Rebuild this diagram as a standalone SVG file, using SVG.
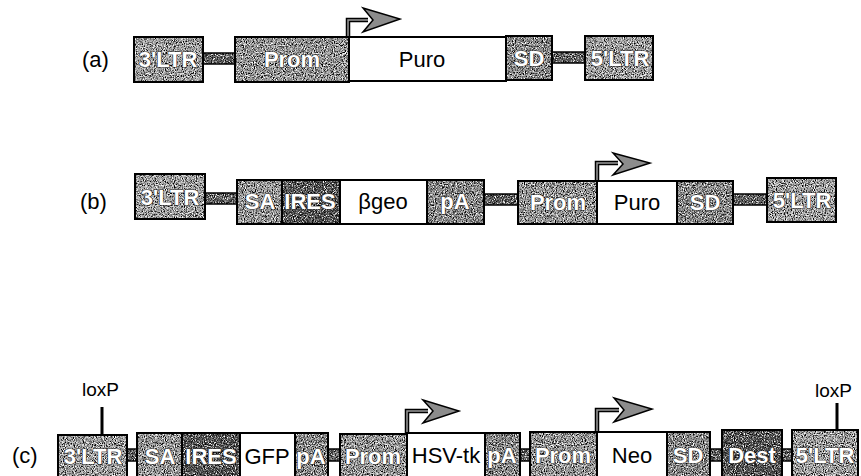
<svg xmlns="http://www.w3.org/2000/svg" width="861" height="476" viewBox="0 0 861 476">
<defs>
<filter id="sp" x="0" y="0" width="1" height="1" color-interpolation-filters="sRGB">
  <feTurbulence type="fractalNoise" baseFrequency="0.9" numOctaves="2" seed="5" result="n"/>
  <feColorMatrix in="n" type="matrix" values="0.33 0.33 0.33 0 0  0.33 0.33 0.33 0 0  0.33 0.33 0.33 0 0  0 0 0 0 1" result="g"/>
  <feComponentTransfer in="g" result="c">
    <feFuncR type="linear" slope="3.5" intercept="-1.25"/>
    <feFuncG type="linear" slope="3.5" intercept="-1.25"/>
    <feFuncB type="linear" slope="3.5" intercept="-1.25"/>
  </feComponentTransfer>
  <feBlend in="SourceGraphic" in2="c" mode="overlay" result="b"/>
  <feComposite in="b" in2="SourceGraphic" operator="in"/>
</filter>
<style>
.f{filter:url(#sp)}
.o{fill:none;stroke:#000;stroke-width:2}
.g1{fill:#a6a6a6}
.g2{fill:#9c9c9c}
.g3{fill:#8c8c8c}
.dk{fill:#4e4e4e}
.wh{fill:#fff;stroke:#000;stroke-width:2}
.bar{fill:#5e5e5e}
.bo{fill:none;stroke:#000;stroke-width:1.5}
.wt{font-family:"Liberation Sans",Arial,sans-serif;font-weight:bold;font-size:22px;fill:#fff;stroke:#333;stroke-width:1.2;paint-order:stroke;text-anchor:middle}
.bt{font-family:"Liberation Sans",Arial,sans-serif;font-size:22px;fill:#000;text-anchor:middle}
.lb{font-family:"Liberation Sans",Arial,sans-serif;font-size:22px;fill:#000}
.lx{font-family:"Liberation Sans",Arial,sans-serif;font-size:19px;fill:#000}
.arl{fill:none;stroke:#000;stroke-width:4.5;stroke-linejoin:miter}
.arc{fill:none;stroke:#9a9a9a;stroke-width:1.5}
.arh{fill:#8c8c8c;stroke:#000;stroke-width:1.5;stroke-linejoin:miter}
.tick{stroke:#000;stroke-width:3}
</style>
</defs>
<rect width="861" height="476" fill="#fff"/>

<!-- labels -->
<text class="lb" x="82" y="67">(a)</text>
<text class="lb" x="80" y="209">(b)</text>
<text class="lb" x="12" y="463">(c)</text>

<!-- connectors -->
<g id="connectors">
  <g id="backbone">
    <rect class="bar f" x="203" y="53" width="32" height="11"/><rect class="bo" x="203" y="53" width="32" height="11"/>
    <rect class="bar f" x="552" y="52" width="33" height="11"/><rect class="bo" x="552" y="52" width="33" height="11"/>
    <rect class="bar f" x="205" y="193" width="32" height="11"/><rect class="bo" x="205" y="193" width="32" height="11"/>
    <rect class="bar f" x="484" y="194" width="34" height="11"/><rect class="bo" x="484" y="194" width="34" height="11"/>
    <rect class="bar f" x="733" y="194" width="34" height="11"/><rect class="bo" x="733" y="194" width="34" height="11"/>
    <rect class="bar f" x="127" y="449" width="10" height="12"/><rect class="bo" x="127" y="449" width="10" height="12"/>
    <rect class="bar f" x="328" y="449" width="12" height="12"/><rect class="bo" x="328" y="449" width="12" height="12"/>
    <rect class="bar f" x="520" y="449" width="10" height="12"/><rect class="bo" x="520" y="449" width="10" height="12"/>
    <rect class="bar f" x="710" y="449" width="12" height="12"/><rect class="bo" x="710" y="449" width="12" height="12"/>
    <rect class="bar f" x="782" y="449" width="10" height="12"/><rect class="bo" x="782" y="449" width="10" height="12"/>
  </g>
  <g id="arrow-a">
    <path class="arl" d="M348,37 V20 H368"/>
    <path class="arc" d="M348,36 V20 H368"/>
    <path class="arh" d="M363,8 L400,19 L363,32 L373,20 Z"/>
  </g>
  <g id="arrow-b">
    <path class="arl" d="M597,181 V163 H618"/>
    <path class="arc" d="M597,180 V163 H618"/>
    <path class="arh" d="M613,153 L650,163 L613,175 L623,164 Z"/>
  </g>
  <g id="arrow-c1">
    <path class="arl" d="M407,433 V411 H428"/>
    <path class="arc" d="M407,432 V411 H428"/>
    <path class="arh" d="M423,400 L459,411 L423,423 L433,411 Z"/>
  </g>
  <g id="arrow-c2">
    <path class="arl" d="M597,432 V410 H619"/>
    <path class="arc" d="M597,431 V410 H619"/>
    <path class="arh" d="M614,398 L652,409 L614,422 L624,410 Z"/>
  </g>
  <g id="loxP-ticks">
    <line class="tick" x1="102" y1="407" x2="102" y2="434"/>
    <line class="tick" x1="837" y1="403" x2="837" y2="430"/>
  </g>
</g>
<text class="lx" x="82" y="396">loxP</text>
<text class="lx" x="815" y="397">loxP</text>

<!-- row a -->
<g id="a-3LTR"><rect class="f g1" x="134" y="37" width="69" height="45"/><rect class="o" x="134" y="37" width="69" height="45"/><text class="wt" x="168" y="67">3'LTR</text></g>
<g id="a-Prom"><rect class="f g2" x="235" y="37" width="114" height="45"/><rect class="o" x="235" y="37" width="114" height="45"/><text class="wt" x="292" y="67">Prom</text></g>
<g id="a-Puro"><rect class="wh" x="349" y="37" width="157" height="44"/><text class="bt" x="422" y="67">Puro</text></g>
<g id="a-SD"><rect class="f g3" x="506" y="36" width="46" height="44"/><rect class="o" x="506" y="36" width="46" height="44"/><text class="wt" x="529" y="66">SD</text></g>
<g id="a-5LTR"><rect class="f g1" x="585" y="36" width="68" height="44"/><rect class="o" x="585" y="36" width="68" height="44"/><text class="wt" x="620" y="66">5'LTR</text></g>

<!-- row b -->
<g id="b-3LTR"><rect class="f g1" x="135" y="174" width="70" height="45"/><rect class="o" x="135" y="174" width="70" height="45"/><text class="wt" x="170" y="205">3'LTR</text></g>
<g id="b-SA"><rect class="f g2" x="237" y="180" width="45" height="44"/><rect class="o" x="237" y="180" width="45" height="44"/><text class="wt" x="260" y="209">SA</text></g>
<g id="b-IRES"><rect class="f dk" x="282" y="180" width="58" height="44"/><rect class="o" x="282" y="180" width="58" height="44"/><text class="wt" x="310" y="209">IRES</text></g>
<g id="b-bgeo"><rect class="wh" x="340" y="180" width="87" height="44"/><text class="bt" x="383" y="209">βgeo</text></g>
<g id="b-pA"><rect class="f g3" x="427" y="180" width="57" height="44"/><rect class="o" x="427" y="180" width="57" height="44"/><text class="wt" x="455" y="209">pA</text></g>
<g id="b-Prom"><rect class="f g2" x="518" y="181" width="79" height="43"/><rect class="o" x="518" y="181" width="79" height="43"/><text class="wt" x="558" y="210">Prom</text></g>
<g id="b-Puro"><rect class="wh" x="597" y="181" width="80" height="43"/><text class="bt" x="637" y="210">Puro</text></g>
<g id="b-SD"><rect class="f g3" x="677" y="181" width="56" height="43"/><rect class="o" x="677" y="181" width="56" height="43"/><text class="wt" x="705" y="210">SD</text></g>
<g id="b-5LTR"><rect class="f g1" x="767" y="178" width="69" height="44"/><rect class="o" x="767" y="178" width="69" height="44"/><text class="wt" x="802" y="208">5'LTR</text></g>

<!-- row c -->
<g id="c-3LTR"><rect class="f g1" x="58" y="435" width="69" height="44"/><rect class="o" x="58" y="435" width="69" height="44"/><text class="wt" x="93" y="464">3'LTR</text></g>
<g id="c-SA"><rect class="f g2" x="137" y="433" width="45" height="46"/><rect class="o" x="137" y="433" width="45" height="46"/><text class="wt" x="160" y="464">SA</text></g>
<g id="c-IRES"><rect class="f dk" x="182" y="433" width="58" height="46"/><rect class="o" x="182" y="433" width="58" height="46"/><text class="wt" x="211" y="464">IRES</text></g>
<g id="c-GFP"><rect class="wh" x="240" y="433" width="55" height="46"/><text class="bt" x="267" y="464">GFP</text></g>
<g id="c-pA1"><rect class="f g3" x="295" y="433" width="33" height="46"/><rect class="o" x="295" y="433" width="33" height="46"/><text class="wt" x="311" y="464">pA</text></g>
<g id="c-Prom1"><rect class="f g2" x="340" y="434" width="67" height="45"/><rect class="o" x="340" y="434" width="67" height="45"/><text class="wt" x="373" y="464">Prom</text></g>
<g id="c-HSVtk"><rect class="wh" x="407" y="433" width="78" height="46"/><text class="bt" x="446" y="463">HSV-tk</text></g>
<g id="c-pA2"><rect class="f g3" x="485" y="433" width="35" height="46"/><rect class="o" x="485" y="433" width="35" height="46"/><text class="wt" x="502" y="463">pA</text></g>
<g id="c-Prom2"><rect class="f g2" x="530" y="432" width="67" height="47"/><rect class="o" x="530" y="432" width="67" height="47"/><text class="wt" x="563" y="463">Prom</text></g>
<g id="c-Neo"><rect class="wh" x="597" y="432" width="70" height="47"/><text class="bt" x="632" y="463">Neo</text></g>
<g id="c-SD"><rect class="f g3" x="667" y="432" width="43" height="47"/><rect class="o" x="667" y="432" width="43" height="47"/><text class="wt" x="688" y="463">SD</text></g>
<g id="c-Dest"><rect class="f dk" x="722" y="430" width="60" height="49"/><rect class="o" x="722" y="430" width="60" height="49"/><text class="wt" x="752" y="463">Dest</text></g>
<g id="c-5LTR"><rect class="f g1" x="792" y="430" width="66" height="49"/><rect class="o" x="792" y="430" width="66" height="49"/><text class="wt" x="825" y="463">5'LTR</text></g>
</svg>
